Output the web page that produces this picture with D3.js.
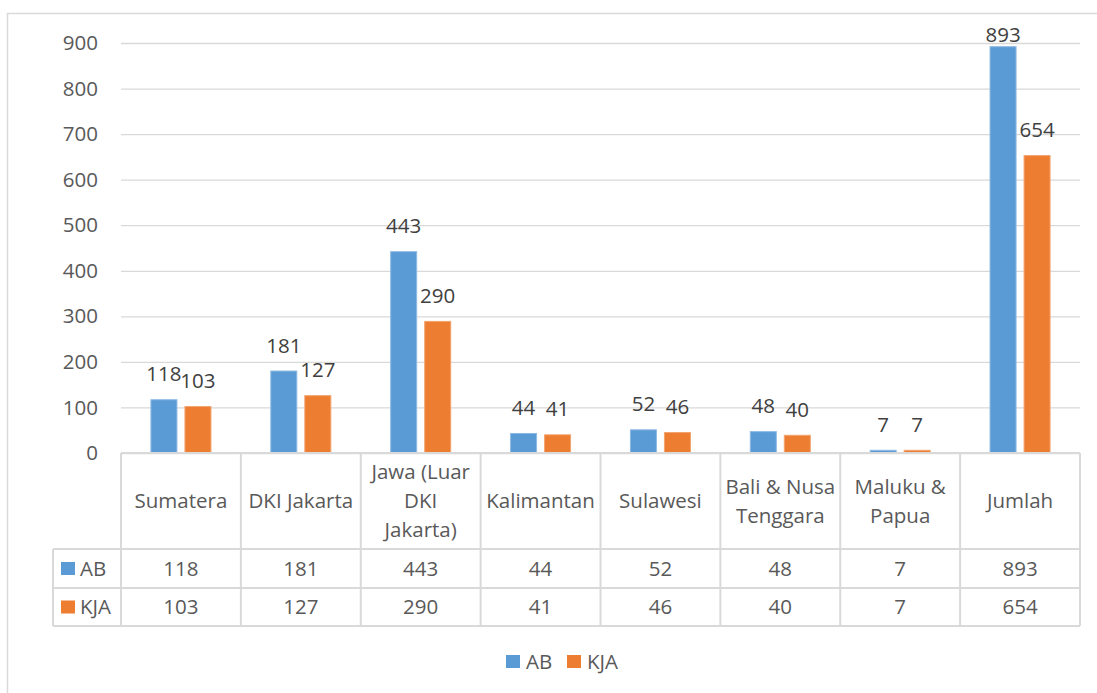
<!DOCTYPE html>
<html>
<head>
<meta charset="utf-8">
<script src="https://cdn.jsdelivr.net/npm/d3@7"></script>
<style>
  html, body { margin: 0; padding: 0; background: #fff; }
  svg { display: block; font-family: "Open Sans", sans-serif; }
</style>
</head>
<body>
<svg id="chart" width="1097" height="693"></svg>
<script>
// Region names (line breaks mark where the header cell wraps)
const categories = ["Sumatera", "DKI Jakarta", "Jawa (Luar\nDKI\nJakarta)", "Kalimantan",
                    "Sulawesi", "Bali & Nusa\nTenggara", "Maluku &\nPapua", "Jumlah"];
const seriesNames = ["AB", "KJA"];
const abValues  = [118, 181, 443, 44, 52, 48, 7, 893];
const kjaValues = [103, 127, 290, 41, 46, 40, 7, 654];
const yTicks = [0, 100, 200, 300, 400, 500, 600, 700, 800, 900];
const seriesColors = ["#5B9BD5", "#ED7D31"];
const seriesStrokes = ["#8DB9E3", "#F3A46E"];

const series = [abValues, kjaValues];

const svg = d3.select("#chart");
const FONT = 20.5;
const plot = { left: 121, right: 1080, top: 43, bottom: 453 };
const table = { left: 53, headerBottom: 549, row1Bottom: 588, row2Bottom: 626 };
const gridColor = "#D9D9D9";

// chart frame
svg.append("rect")
  .attr("x", 7.5).attr("y", 13.5).attr("width", 1100).attr("height", 700)
  .attr("fill", "none").attr("stroke", gridColor).attr("stroke-width", 1.5);

const y = d3.scaleLinear().domain([0, 900]).range([plot.bottom, plot.top]);
const x = d3.scaleBand().domain(categories).range([plot.left, plot.right])
  .paddingInner(0.491).paddingOuter(0.2455);
const xs = d3.scaleBand().domain(seriesNames).range([0, x.bandwidth()]).paddingInner(0.206);

// gridlines + tick labels via axis
const yAxis = svg.append("g")
  .attr("transform", `translate(${plot.left},0)`)
  .call(d3.axisLeft(y).tickValues(yTicks).tickSize(-(plot.right - plot.left)).tickPadding(23));
yAxis.select(".domain").remove();
yAxis.selectAll(".tick line").attr("stroke", gridColor).attr("stroke-width", 1.3);
yAxis.selectAll(".tick text")
  .attr("fill", "#595959").style("font-size", FONT + "px").style("font-family", "Open Sans");

// bars
series.forEach((vals, si) => {
  svg.append("g").selectAll("rect")
    .data(vals)
    .join("rect")
    .attr("x", (d, i) => x(categories[i]) + xs(seriesNames[si]) + 0.5)
    .attr("y", d => y(d) + 0.5)
    .attr("width", xs.bandwidth() - 1)
    .attr("height", d => Math.max(0, y(0) - y(d) - 0.5))
    .attr("fill", seriesColors[si])
    .attr("stroke", seriesStrokes[si])
    .attr("stroke-width", 1);
});

// value labels above bars (kept inside the chart frame)
series.forEach((vals, si) => {
  svg.append("g").selectAll("text")
    .data(vals)
    .join("text")
    .attr("x", (d, i) => x(categories[i]) + xs(seriesNames[si]) + xs.bandwidth() / 2)
    .attr("y", d => Math.max(y(d) - 18, 42))
    .attr("text-anchor", "middle")
    .attr("fill", "#404040")
    .style("font-size", FONT + "px")
    .text(d => d);
});

// data table
const tg = svg.append("g");
const line = (x1, y1, x2, y2) => tg.append("line")
  .attr("x1", x1).attr("y1", y1).attr("x2", x2).attr("y2", y2)
  .attr("stroke", gridColor).attr("stroke-width", 2);

line(plot.left, plot.bottom, plot.right, plot.bottom);
line(table.left, table.headerBottom, plot.right, table.headerBottom);
line(table.left, table.row1Bottom, plot.right, table.row1Bottom);
line(table.left, table.row2Bottom, plot.right, table.row2Bottom);
line(table.left, table.headerBottom, table.left, table.row2Bottom);
categories.forEach(c => {
  const cx = x(c) - x.step() * x.paddingInner() / 2;
  line(cx, plot.bottom, cx, table.row2Bottom);
});
line(plot.right, plot.bottom, plot.right, table.row2Bottom);

// header cells
const lineH = 29;
categories.forEach(c => {
  const lines = c.split("\n");
  const cx = x(c) + x.bandwidth() / 2;
  const cy = (plot.bottom + table.headerBottom) / 2;
  const t = tg.append("text")
    .attr("text-anchor", "middle")
    .attr("fill", "#595959")
    .style("font-size", FONT + "px");
  lines.forEach((ln, k) => {
    t.append("tspan")
      .attr("x", cx)
      .attr("y", cy + (k - (lines.length - 1) / 2) * lineH)
      .attr("dy", "0.35em")
      .text(ln);
  });
});

// value rows
const rowMid = [(table.headerBottom + table.row1Bottom) / 2, (table.row1Bottom + table.row2Bottom) / 2];
series.forEach((vals, si) => {
  tg.append("rect")
    .attr("x", 61).attr("y", rowMid[si] - 6.5).attr("width", 14).attr("height", 13)
    .attr("fill", seriesColors[si]);
  tg.append("text")
    .attr("x", 80).attr("y", rowMid[si]).attr("dy", "0.35em")
    .attr("fill", "#595959").style("font-size", FONT + "px")
    .text(seriesNames[si]);
  vals.forEach((v, i) => {
    tg.append("text")
      .attr("x", x(categories[i]) + x.bandwidth() / 2)
      .attr("y", rowMid[si]).attr("dy", "0.35em")
      .attr("text-anchor", "middle")
      .attr("fill", "#595959").style("font-size", FONT + "px")
      .text(v);
  });
});

// legend
const legendX = [506, 567];
const lg = svg.append("g");
seriesNames.forEach((name, si) => {
  lg.append("rect")
    .attr("x", legendX[si]).attr("y", 655).attr("width", 14).attr("height", 13)
    .attr("fill", seriesColors[si]);
  lg.append("text")
    .attr("x", legendX[si] + 20).attr("y", 661.5).attr("dy", "0.35em")
    .attr("fill", "#595959").style("font-size", FONT + "px")
    .text(name);
});
</script>
</body>
</html>
